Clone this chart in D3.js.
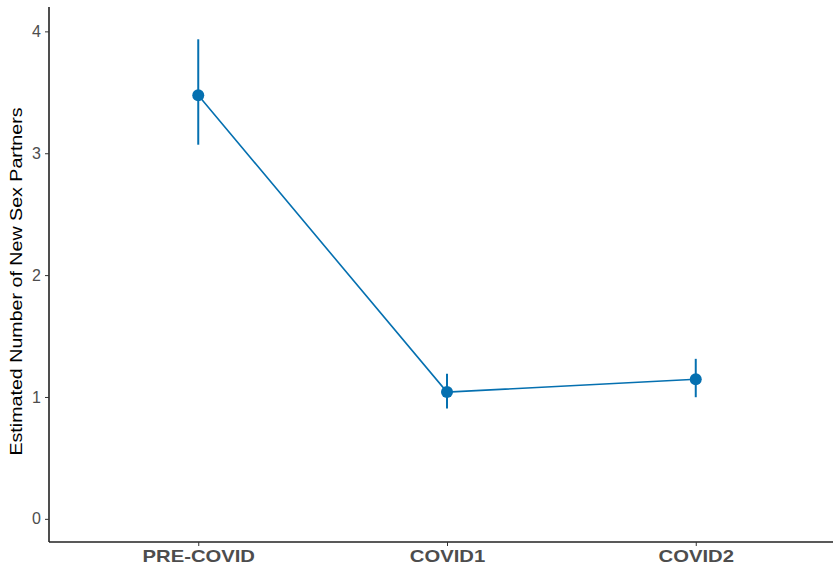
<!DOCTYPE html>
<html>
<head>
<meta charset="utf-8">
<script src="https://cdn.jsdelivr.net/npm/d3@7"></script>
<style>
  body { margin: 0; background: #fff; }
  svg { display: block; }
</style>
</head>
<body>
<script>
// data
var periods = ["PRE-COVID", "COVID1", "COVID2"];
var estimates = [3.475, 1.04, 1.145];
var lower = [3.07, 0.905, 0.998];
var upper = [3.935, 1.19, 1.313];
var yTicks = [0, 1, 2, 3, 4];

var data = periods.map(function(p, i) {
    return {period: p, est: estimates[i], lo: lower[i], hi: upper[i]};
});

var width = 833, height = 570;
var margin = {top: 7, left: 49, bottom: 28};
var plotBottom = height - margin.bottom;
var font = "Liberation Sans, Arial, sans-serif";
var stretch = 1.19; // titles in the picture are drawn a bit wider than Arial

var svg = d3.select("body").append("svg")
    .attr("width", width)
    .attr("height", height);

// ggplot style discrete x with 0.6 expansion; right side runs past the picture
var x = d3.scalePoint()
    .domain(periods)
    .range([margin.left, 845])
    .padding(0.6);

var y = d3.scaleLinear()
    .domain([-0.19, 4.2])
    .range([plotBottom, margin.top]);

var blue = "#0570b0";

function widen(sel) {
    sel.each(function() {
        var w = this.getComputedTextLength();
        d3.select(this).attr("textLength", w * stretch).attr("lengthAdjust", "spacingAndGlyphs");
    });
}

// axes
var yAxis = svg.append("g")
    .attr("transform", "translate(" + margin.left + ",0)")
    .call(d3.axisLeft(y).tickValues(yTicks).tickSize(4).tickPadding(4).tickFormat(d3.format("d")));
yAxis.select(".domain").attr("stroke", "#222").attr("stroke-width", 1.6)
    .attr("d", "M0," + margin.top + "V" + plotBottom);
yAxis.selectAll(".tick line").attr("stroke", "#333").attr("stroke-width", 1);
yAxis.selectAll(".tick text")
    .attr("fill", "#4d4d4d")
    .style("font-family", font)
    .style("font-size", "16px");

var xAxis = svg.append("g")
    .attr("transform", "translate(0," + plotBottom + ")")
    .call(d3.axisBottom(x).tickSize(4).tickPadding(4));
xAxis.select(".domain").attr("stroke", "#222").attr("stroke-width", 1.6)
    .attr("d", "M" + margin.left + ",0H" + width);
xAxis.selectAll(".tick line").attr("stroke", "#333").attr("stroke-width", 1);
xAxis.selectAll(".tick text")
    .attr("fill", "#4d4d4d")
    .style("font-family", font)
    .style("font-weight", "bold")
    .style("font-size", "17px")
    .call(widen);

// y title
svg.append("text")
    .attr("transform", "translate(22," + ((margin.top + plotBottom) / 2 + 7) + ") rotate(-90)")
    .attr("text-anchor", "middle")
    .style("font-family", font)
    .style("font-size", "16.5px")
    .attr("fill", "#000")
    .text("Estimated Number of New Sex Partners")
    .call(widen);

// error bars
svg.selectAll(".err")
    .data(data)
    .enter().append("line")
    .attr("class", "err")
    .attr("x1", function(d) { return x(d.period); })
    .attr("x2", function(d) { return x(d.period); })
    .attr("y1", function(d) { return y(d.lo); })
    .attr("y2", function(d) { return y(d.hi); })
    .attr("stroke", blue)
    .attr("stroke-width", 2);

// line
var line = d3.line()
    .x(function(d) { return x(d.period); })
    .y(function(d) { return y(d.est); });

svg.append("path")
    .datum(data)
    .attr("d", line)
    .attr("fill", "none")
    .attr("stroke", blue)
    .attr("stroke-width", 1.6);

// points
svg.selectAll(".dot")
    .data(data)
    .enter().append("circle")
    .attr("class", "dot")
    .attr("r", 6)
    .attr("cx", function(d) { return x(d.period); })
    .attr("cy", function(d) { return y(d.est); })
    .attr("fill", blue);
</script>
</body>
</html>
